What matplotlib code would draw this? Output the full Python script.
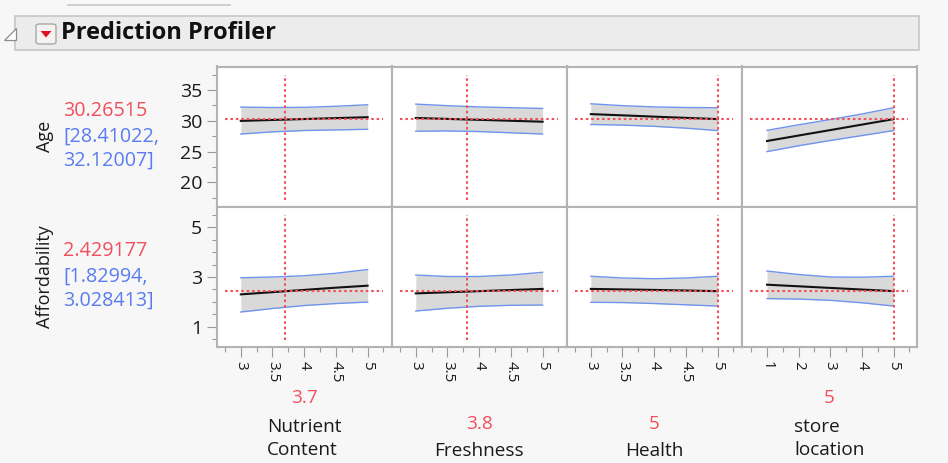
import matplotlib
matplotlib.use("Agg")
import matplotlib.pyplot as plt
from matplotlib.patches import Rectangle, Polygon, FancyBboxPatch
from matplotlib.lines import Line2D
from matplotlib.ticker import MultipleLocator, FixedLocator

# ---------------- data ----------------
responses = ["Age", "Affordability"]
resp_pred_text = ["30.26515", "2.429177"]
resp_ci_text = ["[28.41022,\n32.12007]", "[1.82994,\n3.028413]"]
resp_current = [30.26515, 2.429177]

factors = ["Nutrient\nContent", "Freshness", "Health", "store\nlocation"]
factor_current = [3.7, 3.8, 5, 5]
factor_current_text = ["3.7", "3.8", "5", "5"]

x_levels = [3, 3.5, 4, 4.5, 5]
store_levels = [1, 2, 3, 4, 5]

# Age
age_nutrient_mid = [29.98, 30.13, 30.28, 30.43, 30.58]
age_nutrient_lo = [27.85, 28.20, 28.42, 28.52, 28.62]
age_nutrient_hi = [32.22, 32.15, 32.18, 32.35, 32.60]

age_fresh_mid = [30.45, 30.30, 30.15, 30.00, 29.85]
age_fresh_lo = [28.30, 28.35, 28.25, 28.05, 27.85]
age_fresh_hi = [32.70, 32.45, 32.25, 32.12, 32.00]

age_health_mid = [31.08, 30.88, 30.67, 30.47, 30.27]
age_health_lo = [29.40, 29.30, 29.10, 28.80, 28.41]
age_health_hi = [32.75, 32.45, 32.25, 32.15, 32.12]

age_store_mid = [26.72, 27.61, 28.49, 29.38, 30.27]
age_store_lo = [25.00, 25.95, 26.80, 27.60, 28.41]
age_store_hi = [28.45, 29.35, 30.20, 31.10, 32.12]

# Affordability
aff_nutrient_mid = [2.30, 2.39, 2.48, 2.57, 2.65]
aff_nutrient_lo = [1.59, 1.73, 1.85, 1.93, 1.99]
aff_nutrient_hi = [2.97, 3.00, 3.05, 3.15, 3.30]

aff_fresh_mid = [2.34, 2.385, 2.43, 2.475, 2.52]
aff_fresh_lo = [1.63, 1.74, 1.82, 1.86, 1.87]
aff_fresh_hi = [3.08, 3.02, 3.02, 3.08, 3.19]

aff_health_mid = [2.52, 2.50, 2.48, 2.455, 2.43]
aff_health_lo = [1.98, 1.97, 1.93, 1.88, 1.83]
aff_health_hi = [3.03, 2.96, 2.93, 2.96, 3.03]

aff_store_mid = [2.69, 2.625, 2.56, 2.495, 2.43]
aff_store_lo = [2.13, 2.11, 2.06, 1.96, 1.83]
aff_store_hi = [3.24, 3.10, 3.00, 2.99, 3.03]

curves = [
    [(x_levels, age_nutrient_mid, age_nutrient_lo, age_nutrient_hi),
     (x_levels, age_fresh_mid, age_fresh_lo, age_fresh_hi),
     (x_levels, age_health_mid, age_health_lo, age_health_hi),
     (store_levels, age_store_mid, age_store_lo, age_store_hi)],
    [(x_levels, aff_nutrient_mid, aff_nutrient_lo, aff_nutrient_hi),
     (x_levels, aff_fresh_mid, aff_fresh_lo, aff_fresh_hi),
     (x_levels, aff_health_mid, aff_health_lo, aff_health_hi),
     (store_levels, aff_store_mid, aff_store_lo, aff_store_hi)],
]

age_major = [20, 25, 30, 35]
aff_major = [1, 3, 5]
x_major = [3, 3.5, 4, 4.5, 5]
store_major = [1, 2, 3, 4, 5]

# ---------------- style / layout ----------------
W, H = 948, 463
BG = "#f7f7f7"
RED = "#f0505c"
BLUE = "#5a7cf0"
BAND = "#d9d9d9"
BAND_EDGE = "#6f94ee"
FRAME = "#b3b3b3"
TICKC = "#9a9a9a"
TXT = "#1a1a1a"
FONT = "Open Sans"

plt.rcParams["font.family"] = [FONT, "DejaVu Sans"]

fig = plt.figure(figsize=(W / 100, H / 100), dpi=100, facecolor=BG)


def fx(x):
    return x / W


def fy(y):
    return 1 - y / H


# header elements
fig.add_artist(Line2D([fx(68), fx(230)], [fy(5), fy(5)], color="#c8c8c8", lw=1.2))
fig.add_artist(Rectangle((fx(15), fy(50)), fx(919) - fx(15), fy(16) - fy(50),
                         facecolor="#ececec", edgecolor="#c6c6c6", lw=1.2))
fig.add_artist(Polygon([(fx(4), fy(40)), (fx(16), fy(40)), (fx(16), fy(28))],
                       closed=True, facecolor="#ffffff", edgecolor="#8a8a8a", lw=0.9))
fig.add_artist(FancyBboxPatch((fx(36), fy(44)), fx(56) - fx(36), fy(24) - fy(44),
                              boxstyle="round,pad=0,rounding_size=0.004",
                              facecolor="#f6f2f2", edgecolor="#a8a8a8", lw=1.0))
fig.add_artist(Polygon([(fx(40.5), fy(31)), (fx(51.5), fy(31)), (fx(46), fy(37.5))],
                       closed=True, facecolor="#e0102a", edgecolor="none"))
fig.text(fx(61), fy(33), "Prediction Profiler", fontsize=17, fontweight="bold",
         color="#111111", ha="left", va="center")

# panels
left0, col_w = 216.7, 175.0
row_tops = [66.5, 206.5]
row_h = 140.0
xlims = [(2.62, 5.38), (2.62, 5.38), (2.62, 5.38), (0.2, 5.73)]
ylims = [(16.1, 38.8), (0.2, 5.84)]
x_majors = [x_major, x_major, x_major, store_major]
x_minor_step = [0.25, 0.25, 0.25, 0.5]
y_majors = [age_major, aff_major]
y_minor_step = [2.5, 0.5]

for r in range(2):
    for c in range(4):
        x0 = left0 + c * col_w
        y_top = row_tops[r]
        ax = fig.add_axes([fx(x0), fy(y_top + row_h), col_w / W, row_h / H])
        ax.set_facecolor("white")
        xs, mid, lo, hi = curves[r][c]
        ax.fill_between(xs, lo, hi, color=BAND, lw=0, zorder=2)
        ax.plot(xs, lo, color=BAND_EDGE, lw=1.0, zorder=3)
        ax.plot(xs, hi, color=BAND_EDGE, lw=1.0, zorder=3)
        ax.plot(xs, mid, color="#111111", lw=1.5, zorder=4)
        ax.axhline(resp_current[r], xmin=0.045, xmax=0.95, color=RED, lw=1.5,
                   linestyle=(0, (1.2, 1.4)), zorder=5)
        ax.axvline(factor_current[c], ymin=0.048, ymax=0.94, color=RED, lw=1.5,
                   linestyle=(0, (1.2, 1.4)), zorder=5)
        ax.set_xlim(*xlims[c])
        ax.set_ylim(*ylims[r])
        for s in ax.spines.values():
            s.set_color(FRAME)
            s.set_linewidth(1.5)
        # y ticks
        if c == 0:
            ax.yaxis.set_major_locator(FixedLocator(y_majors[r]))
            ax.yaxis.set_minor_locator(MultipleLocator(y_minor_step[r]))
            ax.tick_params(axis="y", which="major", length=7.5, width=0.8, color=TICKC,
                           labelsize=14, labelcolor=TXT, pad=3)
            ax.tick_params(axis="y", which="minor", length=3.5, width=0.8, color=TICKC)
        else:
            ax.set_yticks([])
            ax.yaxis.set_minor_locator(FixedLocator([]))
        # x ticks
        if r == 1:
            ax.xaxis.set_major_locator(FixedLocator(x_majors[c]))
            ax.xaxis.set_minor_locator(MultipleLocator(x_minor_step[c]))
            ax.set_xticklabels([("%g" % v) for v in x_majors[c]], rotation=270,
                               va="top", ha="center")
            ax.tick_params(axis="x", which="major", length=7.5, width=0.8, color=TICKC,
                           labelsize=11, labelcolor=TXT, pad=3)
            ax.tick_params(axis="x", which="minor", length=3.5, width=0.8, color=TICKC)
        else:
            ax.set_xticks([])
            ax.xaxis.set_minor_locator(FixedLocator([]))

# response labels on the left
resp_centers = [136.5, 276.5]
for r in range(2):
    yc = resp_centers[r]
    fig.text(fx(45), fy(yc), responses[r], rotation=90, fontsize=13, color=TXT,
             ha="center", va="center")
    fig.text(fx(63), fy(yc - 26), resp_pred_text[r], fontsize=14.2, color=RED,
             ha="left", va="center")
    fig.text(fx(63), fy(yc + 12), resp_ci_text[r], fontsize=14.2, color=BLUE,
             ha="left", va="center", linespacing=1.3)

# factor labels under the panels
for c in range(4):
    xc = left0 + c * col_w + col_w / 2
    if "\n" in factors[c]:
        fig.text(fx(xc), fy(438.5), factors[c], fontsize=13.7, color=TXT, ha="center",
                 va="center", multialignment="left", linespacing=1.4)
        fig.text(fx(xc), fy(398), factor_current_text[c], fontsize=13.7, color=RED,
                 ha="center", va="center")
    else:
        fig.text(fx(xc), fy(451), factors[c], fontsize=13.7, color=TXT, ha="center",
                 va="center")
        fig.text(fx(xc), fy(424), factor_current_text[c], fontsize=13.7, color=RED,
                 ha="center", va="center")

fig.savefig("out.png", dpi=100, facecolor=BG)
